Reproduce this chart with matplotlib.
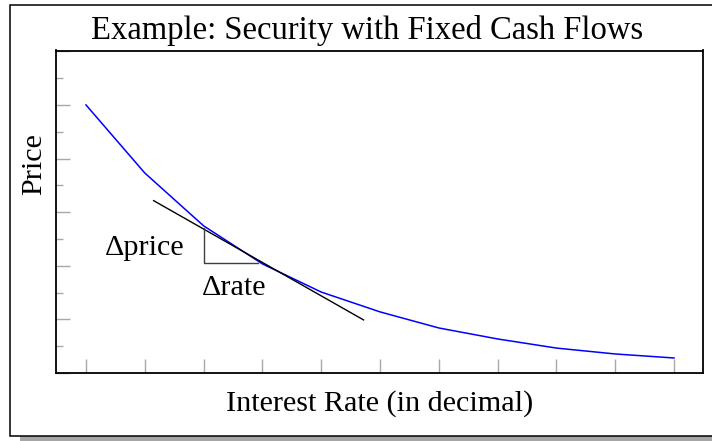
import matplotlib
matplotlib.use("Agg")
import matplotlib.pyplot as plt
from matplotlib.patches import Rectangle
from matplotlib.ticker import MultipleLocator

plt.rcParams['font.family'] = ['Liberation Serif', 'DejaVu Serif']

# price of a fixed cash flow security vs. interest rate
rates = [0.00, 0.01, 0.02, 0.03, 0.04, 0.05, 0.06, 0.07, 0.08, 0.09, 0.10]
prices = [100.0, 74.6, 54.9, 40.7, 30.2, 22.8, 16.8, 12.7, 9.3, 7.1, 5.6]

# tangent line at r = 0.03
tangent_x = [0.0115, 0.0472]
tangent_y = [64.3, 19.8]

# slope triangle under the tangent
tri_x = [0.02, 0.02, 0.0293]
tri_y = [54.1, 41.0, 41.0]

W, H = 712, 441
fig = plt.figure(figsize=(W / 100, H / 100), dpi=100)

# drop shadow and outer frame (pixel positions converted to figure fraction)
fig.patches.append(Rectangle((20 / W, -5 / H), 730 / W, 431 / H,
                             transform=fig.transFigure, facecolor='#a6a6a6',
                             edgecolor='none', zorder=0))
fig.patches.append(Rectangle((10 / W, 5 / H), 730 / W, 431 / H,
                             transform=fig.transFigure, facecolor='white',
                             edgecolor='black', linewidth=1.1, zorder=1))

ax = fig.add_axes([55.7 / W, (H - 373) / H, (703 - 55.7) / W, (373 - 50.5) / H])
ax.set_zorder(2)

ax.plot(rates, prices, color='blue', linewidth=1.1)
ax.plot(tangent_x, tangent_y, color='black', linewidth=1.0)
ax.plot(tri_x, tri_y, color='#404040', linewidth=1.0)

ax.text(0.0168, 44.0, '\u0394price', ha='right', va='baseline', fontsize=21.7)
ax.text(0.0197, 29.1, '\u0394rate', ha='left', va='baseline', fontsize=21.7)

ax.set_xlim(-0.00515, 0.10493)
ax.set_ylim(0, 120.3)
ax.set_xticks(rates)
ax.yaxis.set_major_locator(MultipleLocator(20))
ax.yaxis.set_minor_locator(MultipleLocator(10))
ax.tick_params(which='both', direction='in', colors='#a8a8a8', width=1.0,
               labelbottom=False, labelleft=False)
ax.tick_params(which='major', length=10)
ax.tick_params(which='minor', length=5)
for s in ax.spines.values():
    s.set_linewidth(1.3)
    s.set_color('black')

fig.text(367 / W, (H - 39) / H, 'Example: Security with Fixed Cash Flows',
         ha='center', va='baseline', fontsize=23.5)
fig.text(380 / W, (H - 411) / H, 'Interest Rate (in decimal)',
         ha='center', va='baseline', fontsize=21.7)
fig.text(34 / W, (H - 164) / H, 'Price', rotation=90,
         ha='center', va='center', fontsize=21.7)

fig.savefig('out.png', dpi=100)
